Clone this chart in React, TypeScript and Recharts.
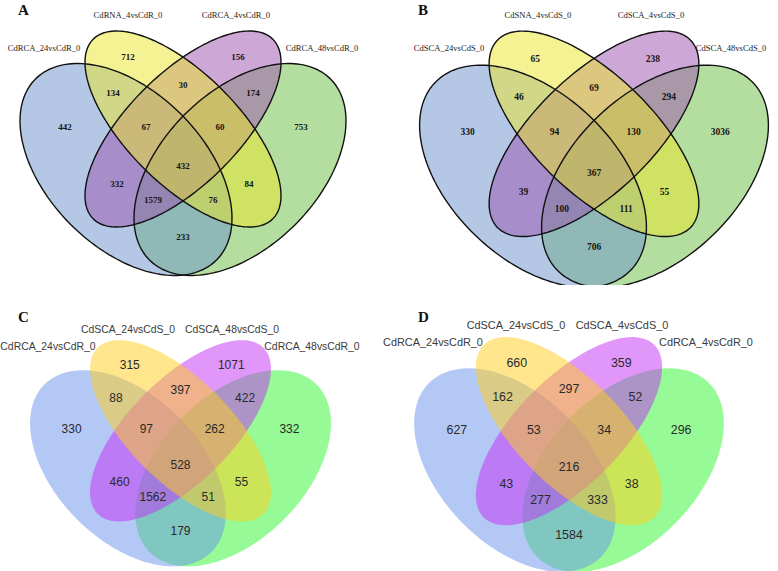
import React from "react";
import { ScatterChart, Scatter, XAxis, YAxis } from "recharts";

// region order: B = set 1 (blue), Y = set 2 (yellow), P = set 3 (purple), G = set 4 (green)
const regionKeys = ["B", "Y", "P", "G", "BY", "YP", "PG", "BP", "YG", "BG", "BYP", "YPG", "BPG", "BYG", "BYPG"];

const setNamesA = ["CdRCA_24vsCdR_0", "CdRNA_4vsCdR_0", "CdRCA_4vsCdR_0", "CdRCA_48vsCdR_0"];
const setNamesB = ["CdSCA_24vsCdS_0", "CdSNA_4vsCdS_0", "CdSCA_4vsCdS_0", "CdSCA_48vsCdS_0"];
const setNamesC = ["CdRCA_24vsCdR_0", "CdSCA_24vsCdS_0", "CdSCA_48vsCdS_0", "CdRCA_48vsCdR_0"];
const setNamesD = ["CdRCA_24vsCdR_0", "CdSCA_24vsCdS_0", "CdSCA_4vsCdS_0", "CdRCA_4vsCdR_0"];

const valuesA = [442, 712, 156, 753, 134, 30, 174, 332, 84, 233, 67, 60, 1579, 76, 432];
const valuesB = [330, 65, 238, 3036, 46, 69, 294, 39, 55, 706, 94, 130, 100, 111, 367];
const valuesC = [330, 315, 1071, 332, 88, 397, 422, 460, 55, 179, 97, 262, 1562, 51, 528];
const valuesD = [627, 660, 359, 296, 162, 297, 52, 43, 38, 1584, 53, 34, 277, 333, 216];

// layout in a shared frame (panel A pixels); each panel maps it through its own axis domains
const regionPos: Record<string, [number, number]> = {
  B: [65, 127], Y: [128, 57], P: [238, 57], G: [301, 127],
  BY: [113, 93], YP: [183, 85], PG: [253, 93], BP: [117, 184], YG: [249, 184], BG: [183, 237],
  BYP: [146, 127], YPG: [220, 127], BPG: [153, 200], BYG: [213, 200], BYPG: [183, 166],
};

// drawing order: green, blue, purple, yellow
const ellipses = [
  { key: "G", cx: 240, cy: 169.5, a: 128, b: 78, rot: -45 },
  { key: "B", cx: 126, cy: 169.5, a: 128, b: 78, rot: 45 },
  { key: "P", cx: 183, cy: 129, a: 127, b: 55.5, rot: -45 },
  { key: "Y", cx: 183, cy: 129, a: 127, b: 55.5, rot: 45 },
];

const coloursTop: Record<string, string> = { B: "#6991cd", Y: "#ece528", P: "#9b51af", G: "#69bd41" };
const coloursBottom: Record<string, string> = { B: "#6991eb", Y: "#ffcd19", P: "#c32df5", G: "#2df52d" };

function ellipsePoints(e: { cx: number; cy: number; a: number; b: number; rot: number }) {
  const th = (e.rot * Math.PI) / 180;
  const pts = [];
  for (let i = 0; i < 180; i++) {
    const t = (i / 180) * Math.PI * 2;
    pts.push({
      x: e.cx + e.a * Math.cos(t) * Math.cos(th) - e.b * Math.sin(t) * Math.sin(th),
      y: e.cy + e.a * Math.cos(t) * Math.sin(th) + e.b * Math.sin(t) * Math.cos(th),
    });
  }
  return pts;
}

const toPath = (points: { x: number; y: number }[]) =>
  points.map((p, i) => `${i === 0 ? "M" : "L"}${p.x.toFixed(2)},${p.y.toFixed(2)}`).join(" ") + " Z";

const Empty = () => <g />;

const panels = [
  {
    letter: "A", left: 0, top: 0, width: 389, height: 285, tcx: 183, sx: 1, tTop: 33, sy: 1,
    values: valuesA, names: setNamesA, colours: coloursTop, outline: true,
    numFont: "'Liberation Serif', 'Times New Roman', serif", numSize: 9, numWeight: 700, numFill: "#151515",
    labFont: "'Liberation Serif', 'Times New Roman', serif", labSize: 8.6, labFill: "#1a1a1a",
    labels: [[44, 51], [128, 18], [236, 18], [322, 51]], letterPos: [18, 15],
  },
  {
    letter: "B", left: 389, top: 0, width: 389, height: 285, tcx: 594, sx: 1.07, tTop: 33.2, sy: 1.048,
    values: valuesB, names: setNamesB, colours: coloursTop, outline: true,
    numFont: "'Liberation Serif', 'Times New Roman', serif", numSize: 9.5, numWeight: 700, numFill: "#151515",
    labFont: "'Liberation Serif', 'Times New Roman', serif", labSize: 8.6, labFill: "#1a1a1a",
    labels: [[449, 51], [538, 18], [651, 18], [731, 51]], letterPos: [418, 15],
  },
  {
    letter: "C", left: 0, top: 285, width: 389, height: 286, tcx: 180.5, sx: 0.923, tTop: 342, sy: 0.925,
    values: valuesC, names: setNamesC, colours: coloursBottom, outline: false,
    numFont: "'Liberation Sans', Arial, sans-serif", numSize: 12, numWeight: 400, numFill: "#2a2a2a",
    labFont: "'Liberation Sans', Arial, sans-serif", labSize: 10.4, labFill: "#3a3a3a",
    labels: [[48, 350], [128, 333], [232, 333], [312, 350]], letterPos: [18, 322],
  },
  {
    letter: "D", left: 389, top: 285, width: 389, height: 286, tcx: 569, sx: 0.95, tTop: 339, sy: 0.96,
    values: valuesD, names: setNamesD, colours: coloursBottom, outline: false,
    numFont: "'Liberation Sans', Arial, sans-serif", numSize: 12.4, numWeight: 400, numFill: "#2a2a2a",
    labFont: "'Liberation Sans', Arial, sans-serif", labSize: 10.9, labFill: "#3a3a3a",
    labels: [[433, 346], [516, 329], [622, 329], [706, 346]], letterPos: [418, 322],
  },
];

function VennPanel({ cfg }: { cfg: (typeof panels)[number] }) {
  const x0 = 183 - (cfg.tcx - cfg.left) / cfg.sx;
  const y0 = 33 - (cfg.tTop - cfg.top) / cfg.sy;
  const xDomain = [x0, x0 + cfg.width / cfg.sx];
  const yDomain = [y0, y0 + cfg.height / cfg.sy];
  const labels = regionKeys.map((k, i) => ({ x: regionPos[k][0], y: regionPos[k][1], value: cfg.values[i] }));

  const NumberShape = (props: any) => (
    <text
      x={props.cx}
      y={props.cy}
      dy="0.36em"
      textAnchor="middle"
      fontFamily={cfg.numFont}
      fontSize={cfg.numSize}
      fontWeight={cfg.numWeight}
      fill={cfg.numFill}
    >
      {props.payload.value}
    </text>
  );

  return (
    <div style={{ position: "absolute", left: cfg.left, top: cfg.top }}>
      <ScatterChart width={cfg.width} height={cfg.height} margin={{ top: 0, right: 0, bottom: 0, left: 0 }}>
        <XAxis type="number" dataKey="x" domain={xDomain} hide allowDataOverflow />
        <YAxis type="number" dataKey="y" domain={yDomain} reversed hide allowDataOverflow />
        {ellipses.map((e) => (
          <Scatter
            key={"fill-" + e.key}
            data={ellipsePoints(e)}
            shape={Empty}
            line={(p: any) => <path d={toPath(p.points)} fill={cfg.colours[e.key]} fillOpacity={0.5} stroke="none" />}
            isAnimationActive={false}
          />
        ))}
        {cfg.outline &&
          ellipses.map((e) => (
            <Scatter
              key={"edge-" + e.key}
              data={ellipsePoints(e)}
              shape={Empty}
              line={(p: any) => <path d={toPath(p.points)} fill="none" stroke="#111" strokeWidth={1.4} />}
              isAnimationActive={false}
            />
          ))}
        <Scatter data={labels} shape={NumberShape} isAnimationActive={false} />
      </ScatterChart>
    </div>
  );
}

export default function App() {
  return (
    <div style={{ position: "absolute", left: 0, top: 0, width: 778, height: 571, background: "#fff", overflow: "hidden" }}>
      {panels.map((p) => (
        <VennPanel key={p.letter} cfg={p} />
      ))}
      <svg width={778} height={571} style={{ position: "absolute", left: 0, top: 0, pointerEvents: "none" }}>
        {panels.map((p) => (
          <g key={"t" + p.letter}>
            <text
              x={p.letterPos[0]}
              y={p.letterPos[1]}
              fontFamily="'Liberation Serif', 'Times New Roman', serif"
              fontWeight={700}
              fontSize={15}
              fill="#111"
            >
              {p.letter}
            </text>
            {p.names.map((n, i) => (
              <text
                key={n + i}
                x={p.labels[i][0]}
                y={p.labels[i][1]}
                textAnchor="middle"
                fontFamily={p.labFont}
                fontSize={p.labSize}
                fill={p.labFill}
              >
                {n}
              </text>
            ))}
          </g>
        ))}
      </svg>
    </div>
  );
}
